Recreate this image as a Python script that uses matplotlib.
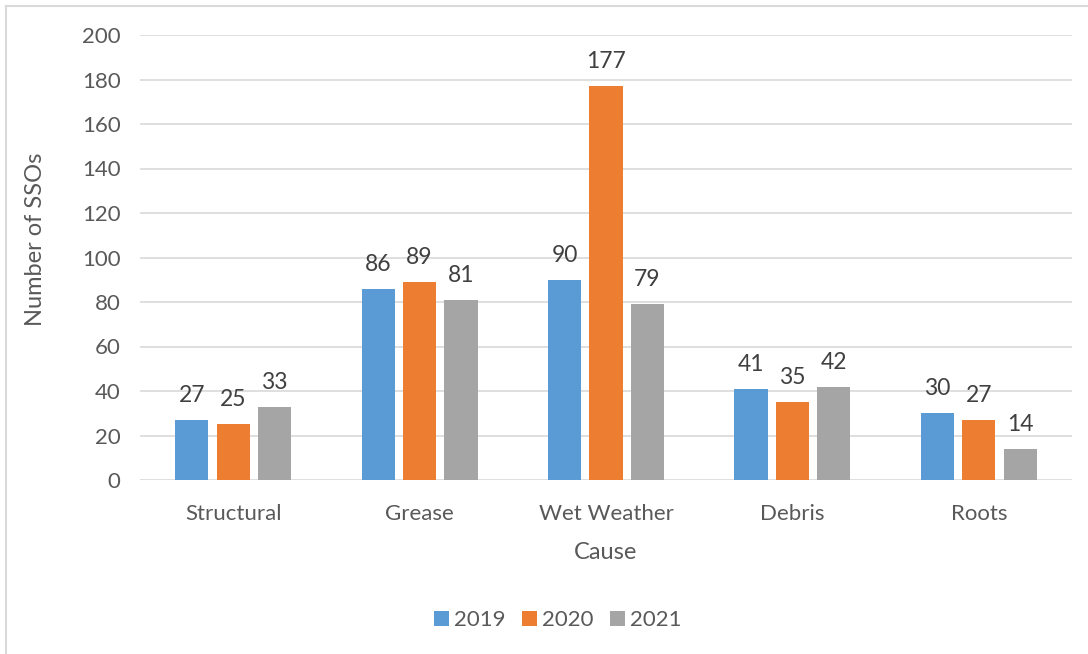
import numpy as np
import matplotlib.pyplot as plt
from matplotlib.lines import Line2D

causes = ["Structural", "Grease", "Wet Weather", "Debris", "Roots"]
years = ["2019", "2020", "2021"]
ssos_2019 = [27, 86, 90, 41, 30]
ssos_2020 = [25, 89, 177, 35, 27]
ssos_2021 = [33, 81, 79, 42, 14]

colors = ["#5B9BD5", "#ED7D31", "#A5A5A5"]
text_color = "#595959"

plt.rcParams["font.family"] = ["Lato", "DejaVu Sans"]

fig = plt.figure(figsize=(10.88, 6.54), dpi=100)
ax = fig.add_axes([140 / 1088, 1 - 480 / 654, 932 / 1088, 445 / 654])

x = np.arange(len(causes))
width = 0.178
step = 0.222
for i, (vals, year) in enumerate(zip([ssos_2019, ssos_2020, ssos_2021], years)):
    bars = ax.bar(x + (i - 1) * step, vals, width, color=colors[i], label=year, zorder=3)
    for b, v in zip(bars, vals):
        ax.annotate(str(v), (b.get_x() + b.get_width() / 2, v),
                    xytext=(0, 10), textcoords="offset points",
                    ha="center", va="bottom", fontsize=16.5, color="#404040")

ax.set_xlim(-0.5, len(causes) - 0.5)
ax.set_ylim(0, 200)
ax.set_yticks(range(0, 201, 20))
ax.set_xticks(x)
ax.set_xticklabels(causes)
ax.grid(axis="y", color="#D9D9D9", linewidth=1.2, zorder=0)
for s in ax.spines.values():
    s.set_visible(False)
ax.tick_params(length=0, labelsize=16, colors=text_color)
ax.tick_params(axis="x", pad=17)
ax.tick_params(axis="y", pad=14)
ax.set_xlabel("Cause", fontsize=17, color=text_color, labelpad=13)
ax.set_ylabel("Number of SSOs", fontsize=17, color=text_color)
ax.yaxis.set_label_coords(-0.101, 0.54)

ax.legend(loc="center", bbox_to_anchor=(558 / 1088, 1 - 620 / 654),
          bbox_transform=fig.transFigure, ncol=3, frameon=False,
          fontsize=16, labelcolor=text_color, handlelength=0.65,
          handleheight=0.65, columnspacing=0.75, handletextpad=0.25)

# chart frame (top and left edges)
fig.add_artist(Line2D([6 / 1088, 6 / 1088], [0, 1 - 6 / 654], transform=fig.transFigure,
                      color="#D9D9D9", linewidth=1.5))
fig.add_artist(Line2D([6 / 1088, 1], [1 - 6 / 654, 1 - 6 / 654], transform=fig.transFigure,
                      color="#D9D9D9", linewidth=1.5))

fig.savefig("out.png", dpi=100)
